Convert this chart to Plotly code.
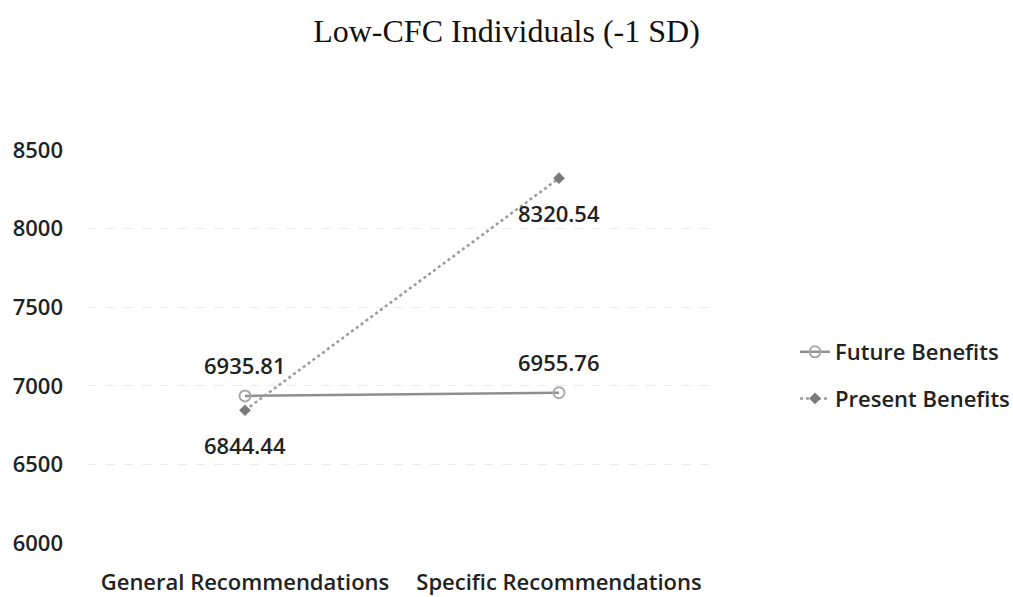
import plotly.graph_objects as go

categories = ["General Recommendations", "Specific Recommendations"]
future_benefits = [6935.81, 6955.76]
present_benefits = [6844.44, 8320.54]
y_ticks = [6000, 6500, 7000, 7500, 8000, 8500]

W, H = 1013, 597
LEFT, RIGHT, TOP, BOTTOM = 88, 297, 150, 54
label_font = dict(family="Open Sans, Noto Sans, sans-serif", size=22,
                  color="#222222", weight=600)

fig = go.Figure()

fig.add_trace(go.Scatter(
    x=categories, y=future_benefits, name="Future Benefits",
    mode="lines+markers", legendgroup="f",
    line=dict(color="#8f8f8f", width=2.5),
    marker=dict(symbol="circle-open", size=11, color="#a8a8a8", line=dict(width=2)),
))
fig.add_trace(go.Scatter(
    x=categories, y=present_benefits, name="Present Benefits",
    mode="lines+markers", legendgroup="p",
    line=dict(color="#9a9a9a", width=2.5, dash="dot"),
    marker=dict(symbol="diamond", size=9, color="#7a7a7a"),
))

# value labels: future above the point, present below
for cat, v in zip(categories, future_benefits):
    fig.add_annotation(x=cat, y=v, text=f"{v:.2f}", showarrow=False,
                       yshift=31, font=label_font)
for cat, v in zip(categories, present_benefits):
    fig.add_annotation(x=cat, y=v, text=f"{v:.2f}", showarrow=False,
                       yshift=-35, font=label_font)

fig.update_layout(
    width=W, height=H,
    margin=dict(l=LEFT, r=RIGHT, t=TOP, b=BOTTOM, pad=0, autoexpand=False),
    paper_bgcolor="white", plot_bgcolor="white",
    title=dict(text="Low-CFC Individuals (-1 SD)", x=0.5, xanchor="center",
               y=1 - 31 / H, yanchor="middle",
               font=dict(family="Liberation Serif, Times New Roman, serif",
                         size=32, color="#111111")),
    showlegend=True,
    legend=dict(x=(795 - LEFT) / (W - LEFT - RIGHT), xanchor="left",
                y=(H - BOTTOM - 331) / (H - TOP - BOTTOM), yanchor="top",
                font=label_font, tracegroupgap=15,
                bgcolor="rgba(0,0,0,0)"),
    xaxis=dict(type="category", range=[-0.5, 1.5], showgrid=False,
               showline=False, zeroline=False, ticks="", automargin=False,
               tickfont=label_font, ticklabelstandoff=24),
    yaxis=dict(range=[6000, 8500], tickvals=y_ticks, showline=False,
               zeroline=False, showgrid=True, gridcolor="#ebebeb",
               griddash="dash", gridwidth=1, ticks="", automargin=False,
               tickfont=label_font, ticklabelstandoff=24),
)

fig.write_html("out.html")
